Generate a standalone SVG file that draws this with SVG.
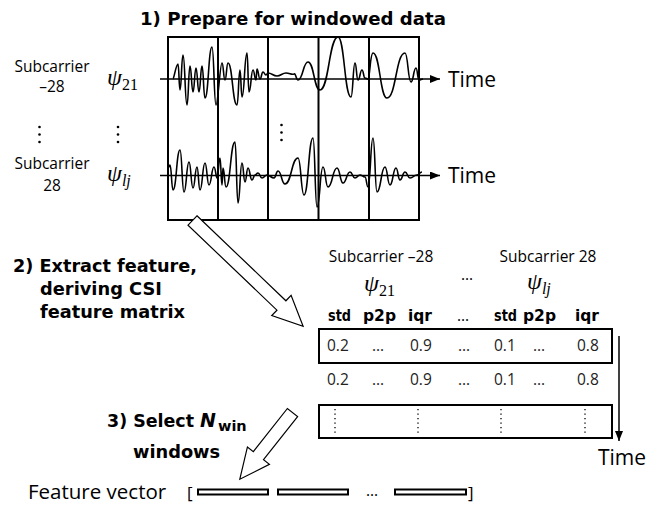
<svg xmlns="http://www.w3.org/2000/svg" width="660" height="506" viewBox="0 0 660 506">
  <defs>
    <marker id="ah" viewBox="0 0 10 8" refX="10" refY="4" markerWidth="10" markerHeight="8" markerUnits="userSpaceOnUse" orient="auto">
      <path d="M0,0 L10,4 L0,8 Z" fill="#000"/>
    </marker>
    <g id="vdots">
      <circle cx="0" cy="0" r="1.3"/>
      <circle cx="0" cy="7.5" r="1.3"/>
      <circle cx="0" cy="15" r="1.3"/>
    </g>
  </defs>
  <style>
    text { font-family: "Open Sans", "Noto Sans", "DejaVu Sans", sans-serif; fill: #000; }
    .b { font-family: "DejaVu Sans", "Open Sans", sans-serif; font-weight: bold; font-size: 17.8px; }
    .lab { font-size: 15.5px; }
    .time { font-size: 21px; }
    .val { font-size: 15.5px; fill: #222; }
    .hdr { font-family: "DejaVu Sans", "Open Sans", sans-serif; font-weight: bold; font-size: 15px; }
    .math { font-family: "Liberation Serif", "DejaVu Serif", serif; font-style: italic; font-size: 24px; }
    .sub { font-family: "Liberation Serif", "DejaVu Serif", serif; font-style: normal; font-size: 16px; }
    .subi { font-family: "Liberation Serif", "DejaVu Serif", serif; font-style: italic; font-size: 16px; }
    .frame { fill: none; stroke: #000; stroke-width: 2; }
    .axis { stroke: #000; stroke-width: 1.5; fill: none; }
    .wave { stroke: #000; stroke-width: 1.6; fill: none; stroke-linejoin: round; }
    .bigarrow { fill: #fff; stroke: #000; stroke-width: 1.2; stroke-linejoin: miter; }
    .row { fill: #fff; stroke: #000; stroke-width: 2; }
    .dotline { stroke: #000; stroke-width: 1.3; stroke-dasharray: 1.3 3.2; }
    .bar { fill: #fff; stroke: #000; stroke-width: 2; }
  </style>

  <rect width="660" height="506" fill="#fff"/>

  <!-- step 1: windowed CSI streams -->
  <g id="step1">
    <text class="b" x="140" y="25" textLength="306" lengthAdjust="spacingAndGlyphs">1) Prepare for windowed data</text>

    <g id="labels-left">
      <text class="lab" x="52" y="72" text-anchor="middle">Subcarrier</text>
      <text class="lab" x="52" y="92" text-anchor="middle">–28</text>
      <text class="lab" x="52" y="169" text-anchor="middle">Subcarrier</text>
      <text class="lab" x="52" y="191" text-anchor="middle">28</text>
      <text class="math" x="107" y="85">ψ<tspan class="sub" dy="5">21</tspan></text>
      <text class="math" x="107" y="181">ψ<tspan class="subi" dy="5">lj</tspan></text>
      <use href="#vdots" x="39.5" y="127"/>
      <use href="#vdots" x="118" y="127"/>
    </g>

    <g id="windows">
      <rect class="frame" x="168" y="37" width="251" height="183"/>
      <line class="frame" x1="218" y1="37" x2="218" y2="220"/>
      <line class="frame" x1="268" y1="37" x2="268" y2="220"/>
      <line class="frame" x1="318.5" y1="37" x2="318.5" y2="220"/>
      <line class="frame" x1="369" y1="37" x2="369" y2="220"/>
      <use href="#vdots" x="281.5" y="125"/>
    </g>

    <g id="wave-top">
      <path class="wave" d="M173,79 C174,79 176,64 178,64 C179,64 179,90 180,90 C181.5,90 181.5,55 183,55 C185,55 185,105 187,105 C188.5,105 188.5,66 190,66 C191.5,66 191.5,92 193,92 C194.5,92 194.5,68 196,68 C197.5,68 197.5,92 199,92 C200.5,92 200.5,66 202,66 C203.5,66 203.5,98 205,98 C208.5,98 208.5,47 212,47 C214,47 214,105 216,105 C218,105 220,63 222,63 C223.5,63 223.5,80 225,80 C226.5,80 226.5,63 228,63 C232.5,63 232.5,105 237,105 C238.5,105 238.5,70 240,70 C241,70 241,97 242,97 C244.5,97 244.5,53 247,53 C248,53 248,92 249,92 C251,92 251,70 253,70 C254.5,70 254.5,80 256,80 C256.5,80 256.5,69 257,69 C258.5,69 258.5,79 260,79 C261.5,79 261.5,72 263,72 C264.5,72 264.5,75 266,75 C267,75 267,73 268,73 C272,73 273,76 277,76 C281,76 282,73 286,73 C290,73 291,75 294,74 C296,73 296,80 298,80 C303,80 303,62 308,62 C314,62 314,90 320,90 C329,90 329,37 338,37 C344.5,37 344.5,97 351,97 C353,97 353,63 355,63 C356.5,63 356.5,80 358,80 C360,80 360,70 362,70 C363.5,70 363.5,78 365,78 C366.5,78 366.5,79 368,79 C370,79 370,53 373,53 C380,53 380,98 387,98 C396,98 396,53 405,53 C408,53 408,82 411,82 C413.5,82 413.5,68 416,68 C417.5,68 417.5,80 419,80 C421,80 421,79 423,79"/>
    </g>

    <g id="wave-bottom">
      <path class="wave" d="M168,168 C169,168 169,165 170,165 C171.5,165 171.5,190 173,190 C176.5,190 176.5,150 180,150 C182,150 182,192 184,192 C186.5,192 186.5,162 189,162 C191,162 191,188 193,188 C195,188 195,167 197,167 C198.5,167 198.5,190 200,190 C202.5,190 202.5,163 205,163 C207,163 207,185 209,185 C211.5,185 211.5,167 214,167 C215.5,167 216,178 217,178 C218.5,178 218.5,158 220,158 C221,158 221,185 222,185 C222.5,185 222.5,168 223,168 C224.5,168 224.5,187 226,187 C230.5,187 230.5,142 235,142 C236.5,142 236.5,203 238,203 C240,203 240,163 242,163 C243.5,163 243.5,182 245,182 C246.5,182 246.5,168 248,168 C250,168 250,180 252,180 C253.5,180 253.5,175 255,175 C256.5,175 256.5,173 258,173 C260,173 260,178 262,178 C264.5,178 264.5,175 267,175 C270,175 271,178 274,178 C276,178 276,171 278,171 C281.5,171 281.5,184 285,184 C291.5,184 291.5,158 298,158 C301,158 301,195 304,195 C308.5,195 308.5,138 313,138 C315,138 315,207 317,207 C320,207 320,167 323,167 C325.5,167 325.5,187 328,187 C332.5,187 332.5,168 337,168 C340,168 340,183 343,183 C346.5,183 346.5,172 350,172 C352.5,172 352.5,178 355,178 C357.5,178 357.5,175 360,175 C362.5,175 362.5,177 365,177 C366.5,177 366.5,187 368,187 C370.5,187 370.5,138 373,138 C375,138 375,192 377,192 C381,192 381,167 385,167 C387.5,167 387.5,185 390,185 C393,185 393,168 396,168 C398,168 398,180 400,180 C402.5,180 402.5,172 405,172 C407.5,172 407.5,178 410,178 C413.5,178 413.5,175 417,175 C419.5,175 419.5,172 422,172"/>
    </g>

    <g id="time-axes">
      <line class="axis" x1="160" y1="79" x2="440" y2="79" marker-end="url(#ah)"/>
      <line class="axis" x1="160" y1="175.5" x2="440" y2="175.5" marker-end="url(#ah)"/>
      <text class="time" x="448" y="87">Time</text>
      <text class="time" x="448" y="183">Time</text>
    </g>
  </g>

  <!-- step 2: feature extraction -->
  <g id="step2-label">
    <text class="b" x="13" y="272" textLength="184" lengthAdjust="spacingAndGlyphs">2) Extract feature,</text>
    <text class="b" x="40" y="295" textLength="122" lengthAdjust="spacingAndGlyphs">deriving CSI</text>
    <text class="b" x="40" y="318" textLength="145" lengthAdjust="spacingAndGlyphs">feature matrix</text>
  </g>

  <g id="connectors">
    <polygon class="bigarrow" transform="translate(192.5,220.5) rotate(43.7)" points="0,-6.5 123,-6.5 123,-14 153,0 123,14 123,6.5 0,6.5"/>
    <polygon class="bigarrow" transform="translate(292.5,412.5) rotate(128.3)" points="0,-6.5 55,-6.5 55,-14 85,0 55,14 55,6.5 0,6.5"/>
    <line class="axis" x1="619" y1="336" x2="619" y2="441" marker-end="url(#ah)"/>
  </g>

  <g id="matrix">
    <text class="lab" x="381" y="262" text-anchor="middle">Subcarrier –28</text>
    <text class="lab" x="548" y="262" text-anchor="middle">Subcarrier 28</text>
    <text class="math" x="364" y="291">ψ<tspan class="sub" dy="5">21</tspan></text>
    <text class="math" x="527" y="289">ψ<tspan class="subi" dy="5">lj</tspan></text>
    <text class="lab" x="467" y="280" text-anchor="middle">…</text>

    <g id="header">
      <text class="hdr" x="328" y="321" textLength="23" lengthAdjust="spacingAndGlyphs">std</text>
      <text class="hdr" x="363" y="321" textLength="33" lengthAdjust="spacingAndGlyphs">p2p</text>
      <text class="hdr" x="408" y="321" textLength="24" lengthAdjust="spacingAndGlyphs">iqr</text>
      <text class="lab" x="457" y="321">…</text>
      <text class="hdr" x="494" y="321" textLength="23" lengthAdjust="spacingAndGlyphs">std</text>
      <text class="hdr" x="523" y="321" textLength="33" lengthAdjust="spacingAndGlyphs">p2p</text>
      <text class="hdr" x="575" y="321" textLength="24" lengthAdjust="spacingAndGlyphs">iqr</text>
    </g>

    <g id="row1">
      <rect class="row" x="319" y="329" width="293" height="34"/>
      <text class="val" x="327" y="351">0.2</text>
      <text class="val" x="372" y="351">…</text>
      <text class="val" x="410" y="351">0.9</text>
      <text class="val" x="458" y="351">…</text>
      <text class="val" x="494" y="351">0.1</text>
      <text class="val" x="533" y="351">…</text>
      <text class="val" x="577" y="351">0.8</text>
    </g>

    <g id="row2">
      <text class="val" x="327" y="385">0.2</text>
      <text class="val" x="372" y="385">…</text>
      <text class="val" x="410" y="385">0.9</text>
      <text class="val" x="458" y="385">…</text>
      <text class="val" x="494" y="385">0.1</text>
      <text class="val" x="533" y="385">…</text>
      <text class="val" x="577" y="385">0.8</text>
    </g>

    <g id="row3">
      <rect class="row" x="319" y="405" width="293" height="33"/>
      <line class="dotline" x1="335" y1="409" x2="335" y2="435"/>
      <line class="dotline" x1="418" y1="409" x2="418" y2="435"/>
      <line class="dotline" x1="501" y1="409" x2="501" y2="435"/>
      <line class="dotline" x1="585" y1="409" x2="585" y2="435"/>
    </g>

    <text class="time" x="598" y="465">Time</text>
  </g>

  <!-- step 3: window selection -->
  <g id="step3-label">
    <text class="b" x="107" y="427"><tspan textLength="87" lengthAdjust="spacingAndGlyphs">3) Select</tspan><tspan x="200" font-style="italic" font-size="19px">N</tspan><tspan x="218" dy="4" font-size="14.5px">win</tspan></text>
    <text class="b" x="133" y="458">windows</text>
  </g>

  <g id="feature-vector">
    <text x="28" y="499" style="font-size:20.5px">Feature vector</text>
    <text x="187" y="499" style="font-size:17px">[</text>
    <rect class="bar" x="198" y="489.5" width="70" height="5"/>
    <rect class="bar" x="278" y="489.5" width="70" height="5"/>
    <text class="lab" x="366" y="496">…</text>
    <rect class="bar" x="395" y="489.5" width="71" height="5"/>
    <text x="468" y="499" style="font-size:17px">]</text>
  </g>
</svg>
